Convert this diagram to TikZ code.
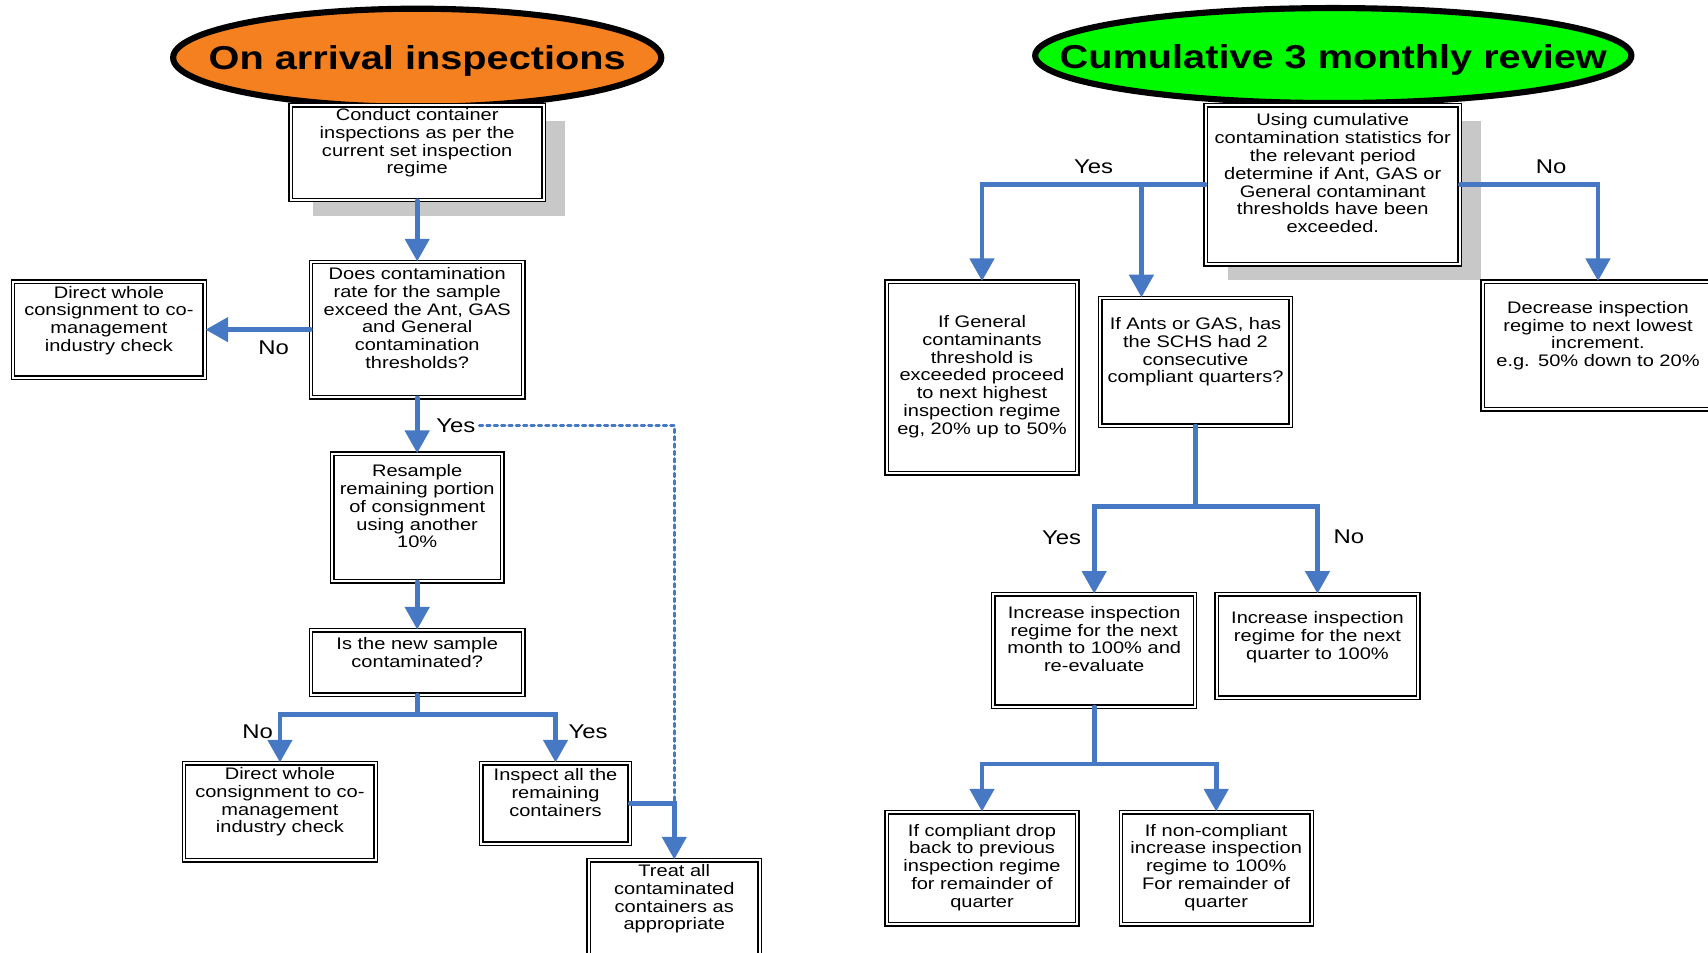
\documentclass[tikz,border=0pt]{standalone}
\usepackage{fontspec}
\setmainfont{Liberation Sans}[FakeStretch=1.2]
\usepackage{tikz}
\usetikzlibrary{arrows.meta,shapes.geometric,shadows}
\definecolor{flowblue}{RGB}{70,120,196}
\definecolor{arrivalorange}{RGB}{245,128,31}
\definecolor{reviewgreen}{RGB}{0,250,0}
\definecolor{shadowgray}{RGB}{200,200,200}

\begin{document}
\begin{tikzpicture}[x=0.025cm,y=-0.025cm,>={Triangle[length=5.2mm,width=5.5mm]},line cap=round,
  box/.style={draw,line width=0.9pt,double=white,double distance=1.3pt,fill=white,align=center,
    anchor=north,inner xsep=2pt,inner ysep=3pt,font=\fontsize{10.9}{11.6}\selectfont},
  boxsize/.style n args={3}{text width=#1*0.025cm-4pt,text height=#3*0.025cm-3pt,text depth=(#2-#3)*0.025cm-3pt},
  title/.style={ellipse,draw,line width=4pt,inner sep=0pt,font=\fontsize{21.6}{24}\selectfont\bfseries},
  boxshadow/.style={drop shadow={shadow xshift=0.5cm,shadow yshift=-0.36cm,fill=shadowgray,opacity=1}},
  conn/.style={draw=flowblue,line width=3.1pt},
  dotline/.style={draw=flowblue,line width=1.7pt,dash pattern=on 2.4pt off 2.4pt},
  lbl/.style={inner sep=1pt,font=\fontsize{13}{15}\selectfont}]
\path[use as bounding box,clip] (0,0) rectangle (1568,874);

\node[title,fill=arrivalorange,minimum width=11.2cm,minimum height=2.25cm] (arrival) at (383,53) {\makebox[0pt]{\smash{\raisebox{-7.6pt}{On arrival inspections}}}};
\node[title,fill=reviewgreen,minimum width=13.68cm,minimum height=2.18cm] (review) at (1224,51) {\makebox[0pt]{\smash{\raisebox{-8.6pt}{Cumulative 3 monthly review}}}};

\node[box,boxshadow,boxsize={232}{87}{14}] (conduct) at (383,96) {Conduct container\\inspections as per the\\current set inspection\\regime};
\node[box,boxsize={195}{124}{16}] (thresh) at (383,240) {Does contamination\\rate for the sample\\exceed the Ant, GAS\\and General\\contamination\\thresholds?};
\node[box,boxsize={176}{88}{15}] (directA) at (100,258) {Direct whole\\consignment to co-\\management\\industry check};
\node[box,boxsize={156}{117}{21}] (resample) at (383,416) {Resample\\remaining portion\\of consignment\\using another\\10\%};
\node[box,boxsize={195}{59}{18}] (newsample) at (383,578) {Is the new sample\\contaminated?};
\node[box,boxsize={176}{89}{15}] (directB) at (257,700) {Direct whole\\consignment to co-\\management\\industry check};
\node[box,boxsize={136}{74}{16}] (inspect) at (510,700) {Inspect all the\\remaining\\containers};
\node[box,boxsize={157}{100}{15}] (treat) at (619,789) {Treat all\\contaminated\\containers as\\appropriate};

\node[box,boxshadow,boxsize={233}{146}{19}] (using) at (1223.5,96) {Using cumulative\\contamination statistics for\\the relevant period\\determine if Ant, GAS or\\General contaminant\\thresholds have been\\exceeded.};
\node[box,boxsize={175}{176}{42}] (general) at (901.5,258) {If General\\contaminants\\threshold is\\exceeded proceed\\to next highest\\inspection regime\\eg, 20\% up to 50\%};
\node[box,boxsize={175}{117}{29}] (ants) at (1097.5,273) {If Ants or GAS, has\\the SCHS had 2\\consecutive\\compliant quarters?};
\node[box,boxsize={212}{117}{29}] (decrease) at (1467,258) {Decrease inspection\\regime to next lowest\\increment.\\e.g. 50\% down to 20\%};
\node[box,boxsize={185}{103}{22}] (monthinc) at (1004.5,545) {Increase inspection\\regime for the next\\month to 100\% and\\re-evaluate};
\node[box,boxsize={185}{95}{27}] (quarterinc) at (1209.5,545) {Increase inspection\\regime for the next\\quarter to 100\%};
\node[box,boxsize={175}{103}{22}] (compliant) at (901.5,745) {If compliant drop\\back to previous\\inspection regime\\for remainder of\\quarter};
\node[box,boxsize={175}{103}{22}] (noncompl) at (1116.5,745) {If non-compliant\\increase inspection\\regime to 100\%\\For remainder of\\quarter};
\coordinate (antsin) at ([xshift=-1.24cm]ants.north);

\draw[conn,->] (conduct.south) -- (thresh.north);
\draw[conn,->] (thresh.west) -- (directA.east) node[lbl,pos=0.35,below=5pt] {No};
\draw[conn,->] (thresh.south) -- (resample.north) node[lbl,midway,right=10pt] (yesA) {Yes};
\draw[dotline] (yesA.east) -| (inspect.east -| treat.north);
\draw[conn,->] (resample.south) -- (newsample.north);
\draw[conn,->] (newsample.south) -- ++(0,18) -| (directB.north) node[lbl,pos=0.68,left=2pt] {No};
\draw[conn,->] (newsample.south) -- ++(0,18) -| (inspect.north) node[lbl,pos=0.68,right=6pt] {Yes};
\draw[conn,->] (inspect.east) -| (treat.north);

\draw[conn,->] (using.west) -| (general.north) node[lbl,pos=0.25,above=5pt] {Yes};
\draw[conn,->] (using.west -| antsin) -- (antsin);
\draw[conn,->] (using.east) -| (decrease.north) node[lbl,pos=0.33,above=5pt] {No};
\draw[conn,->] (ants.south) -- ++(0,74) -| (monthinc.north) node[lbl,pos=0.68,left=6pt] {Yes};
\draw[conn,->] (ants.south) -- ++(0,74) -| (quarterinc.north) node[lbl,pos=0.67,right=8pt] {No};
\draw[conn,->] (monthinc.south) -- ++(0,52) -| (compliant.north);
\draw[conn,->] (monthinc.south) -- ++(0,52) -| (noncompl.north);
\end{tikzpicture}
\end{document}
